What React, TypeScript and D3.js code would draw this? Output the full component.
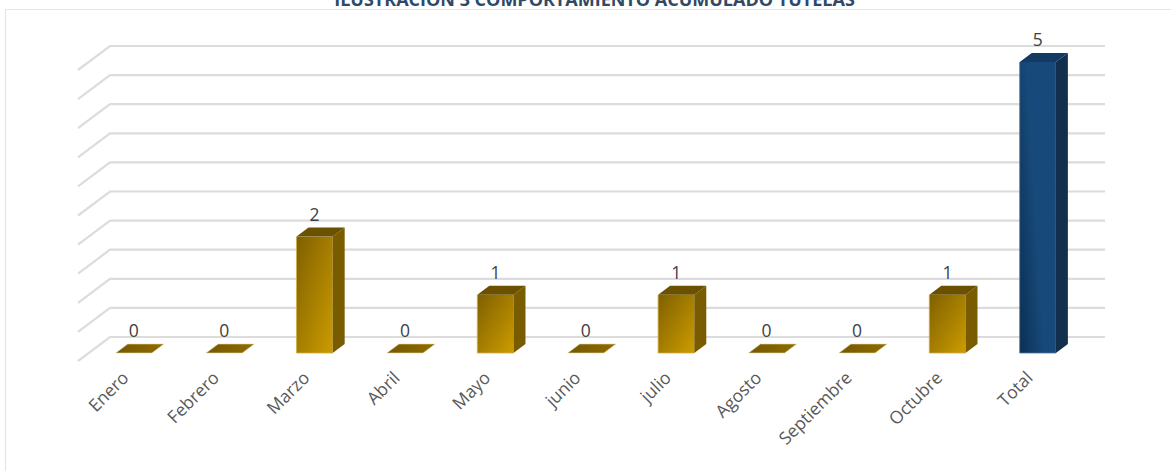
import * as d3 from "d3";

const months = ["Enero", "Febrero", "Marzo", "Abril", "Mayo", "junio", "julio", "Agosto", "Septiembre", "Octubre", "Total"];
const counts = [0, 0, 2, 0, 1, 0, 1, 0, 0, 1, 5];
const gridTicks = [0, 0.5, 1, 1.5, 2, 2.5, 3, 3.5, 4, 4.5, 5];
const chartTitle = "ILUSTRACIÓN 3 COMPORTAMIENTO ACUMULADO TUTELAS";

const width = 1171;
const height = 471;

// fake 3d offsets
const barDepthX = 12;
const barDepthY = 9;
const wallDepthX = 32;
const wallDepthY = 24;
const floorToWall = 16;

const x = d3.scaleBand<string>().domain(months).range([88.6, 1083]).paddingInner(0.6).paddingOuter(0.3);
const y = d3.scaleLinear().domain([0, 5]).range([353, 62]);

const wallLine = d3.line<[number, number]>();

export default function App() {
  const w = x.bandwidth();
  return (
    <svg
      width={width}
      height={height}
      viewBox={`0 0 ${width} ${height}`}
      style={{ position: "absolute", left: 0, top: 0, background: "#fff" }}
      fontFamily="'Open Sans', sans-serif"
    >
      <defs>
        <linearGradient id="gold" x1="0" y1="0" x2="1" y2="1">
          <stop offset="0" stopColor="#7f6000" />
          <stop offset="1" stopColor="#cc9c00" />
        </linearGradient>
        <linearGradient id="goldFlat" x1="0" y1="0" x2="1" y2="0">
          <stop offset="0" stopColor="#755800" />
          <stop offset="1" stopColor="#8f6c00" />
        </linearGradient>
        <linearGradient id="blue" x1="0" y1="1" x2="0.55" y2="0.72">
          <stop offset="0" stopColor="#0b2f54" />
          <stop offset="1" stopColor="#174a7a" />
        </linearGradient>
      </defs>

      <path d="M5.5,471 V9.5 H1171" fill="none" stroke="#e6e6e6" strokeWidth={1.2} />

      <text x={594.5} y={6} textAnchor="middle" fontSize={18} fontWeight={700} fill="#2f4a68">
        {chartTitle}
      </text>

      {gridTicks.map((t) => {
        const gy = y(t) - floorToWall;
        return (
          <path
            key={t}
            d={wallLine([[78, gy + wallDepthY], [78 + wallDepthX, gy], [1105, gy]]) ?? ""}
            fill="none"
            stroke="#dcdcdc"
            strokeWidth={2.2}
          />
        );
      })}

      {months.map((m, i) => {
        const v = counts[i];
        const left = x(m) ?? 0;
        const top = y(v);
        const base = y(0);
        const isTotal = m === "Total";
        const edge = isTotal ? "#4f7399" : "#d2ab45";
        const topPoints = `${left},${top} ${left + w},${top} ${left + w + barDepthX},${top - barDepthY} ${left + barDepthX},${top - barDepthY}`;
        return (
          <g key={m}>
            {v > 0 ? (
              <>
                <rect x={left} y={top} width={w} height={base - top} fill={isTotal ? "url(#blue)" : "url(#gold)"} />
                <path
                  d={`M${left},${top} V${base} H${left + w}`}
                  fill="none"
                  stroke={edge}
                  strokeWidth={0.8}
                />
                <polygon
                  points={`${left + w},${top} ${left + w + barDepthX},${top - barDepthY} ${left + w + barDepthX},${base - barDepthY} ${left + w},${base}`}
                  fill={isTotal ? "#122f4e" : "#7a5c00"}
                />
                <polygon points={topPoints} fill={isTotal ? "#123a62" : "#6b5000"} />
              </>
            ) : (
              <polygon points={topPoints} fill="url(#goldFlat)" stroke="#e6d6a8" strokeWidth={0.6} />
            )}
            <text
              x={left + w / 2}
              y={top - barDepthY - 7}
              textAnchor="middle"
              fontSize={17.5}
              fill="#404040"
            >
              {v}
            </text>
            <text
              transform={`translate(${left + w / 2 - 4},${base + 26}) rotate(-45)`}
              textAnchor="end"
              fontSize={17.5}
              fill="#595959"
            >
              {m}
            </text>
          </g>
        );
      })}
    </svg>
  );
}
